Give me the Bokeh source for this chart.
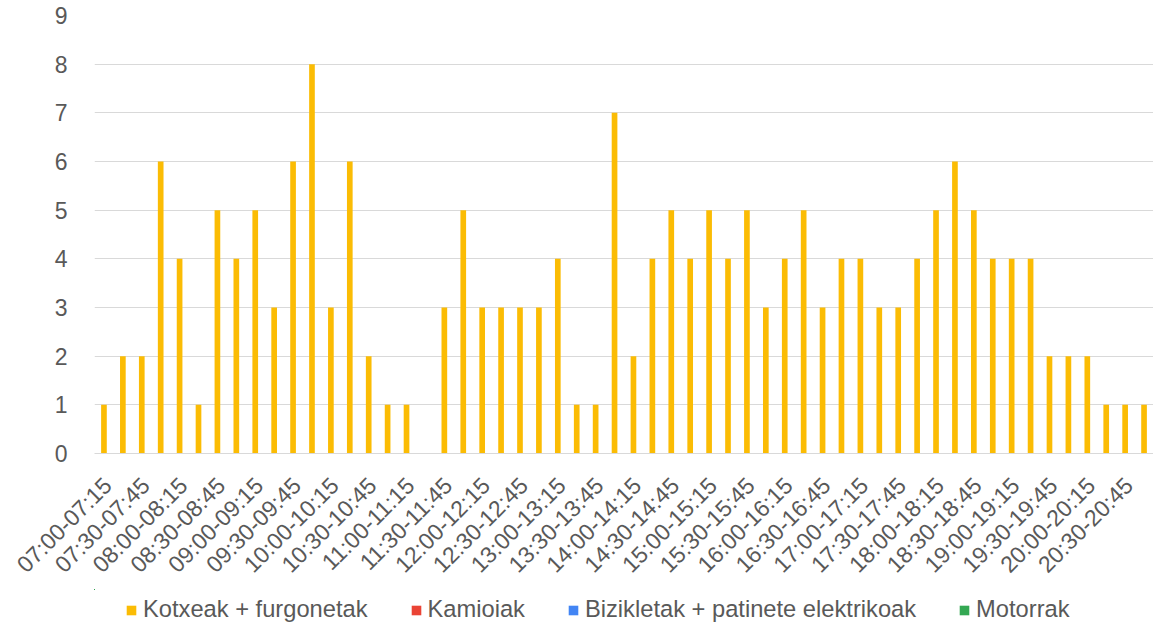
import math
from bokeh.plotting import figure
from bokeh.layouts import column
from bokeh.models import ColumnDataSource, Range1d, FixedTicker, Legend, LegendItem
from bokeh.embed import file_html
from bokeh.resources import INLINE

categories = [
    "07:00-07:15", "07:15-07:30", "07:30-07:45", "07:45-08:00",
    "08:00-08:15", "08:15-08:30", "08:30-08:45", "08:45-09:00",
    "09:00-09:15", "09:15-09:30", "09:30-09:45", "09:45-10:00",
    "10:00-10:15", "10:15-10:30", "10:30-10:45", "10:45-11:00",
    "11:00-11:15", "11:15-11:30", "11:30-11:45", "11:45-12:00",
    "12:00-12:15", "12:15-12:30", "12:30-12:45", "12:45-13:00",
    "13:00-13:15", "13:15-13:30", "13:30-13:45", "13:45-14:00",
    "14:00-14:15", "14:15-14:30", "14:30-14:45", "14:45-15:00",
    "15:00-15:15", "15:15-15:30", "15:30-15:45", "15:45-16:00",
    "16:00-16:15", "16:15-16:30", "16:30-16:45", "16:45-17:00",
    "17:00-17:15", "17:15-17:30", "17:30-17:45", "17:45-18:00",
    "18:00-18:15", "18:15-18:30", "18:30-18:45", "18:45-19:00",
    "19:00-19:15", "19:15-19:30", "19:30-19:45", "19:45-20:00",
    "20:00-20:15", "20:15-20:30", "20:30-20:45", "20:45-21:00",
]

kotxeak = [1, 2, 2, 6, 4, 1, 5, 4, 5, 3, 6, 8, 3, 6, 2, 1, 1, 0,
           3, 5, 3, 3, 3, 3, 4, 1, 1, 7, 2, 4, 5, 4, 5, 4, 5, 3,
           4, 5, 3, 4, 4, 3, 3, 4, 5, 6, 5, 4, 4, 4, 2, 2, 2, 1, 1, 1]
kamioiak = [0, 0, 0, 0, 0, 0, 0, 0, 0, 0, 0, 0, 0, 0, 0, 0, 0, 0,
            0, 0, 0, 0, 0, 0, 0, 0, 0, 0, 0, 0, 0, 0, 0, 0, 0, 0,
            0, 0, 0, 0, 0, 0, 0, 0, 0, 0, 0, 0, 0, 0, 0, 0, 0, 0, 0, 0]
bizikletak = [0, 0, 0, 0, 0, 0, 0, 0, 0, 0, 0, 0, 0, 0, 0, 0, 0, 0,
              0, 0, 0, 0, 0, 0, 0, 0, 0, 0, 0, 0, 0, 0, 0, 0, 0, 0,
              0, 0, 0, 0, 0, 0, 0, 0, 0, 0, 0, 0, 0, 0, 0, 0, 0, 0, 0, 0]
motorrak = [0, 0, 0, 0, 0, 0, 0, 0, 0, 0, 0, 0, 0, 0, 0, 0, 0, 0,
            0, 0, 0, 0, 0, 0, 0, 0, 0, 0, 0, 0, 0, 0, 0, 0, 0, 0,
            0, 0, 0, 0, 0, 0, 0, 0, 0, 0, 0, 0, 0, 0, 0, 0, 0, 0, 0, 0]

series_names = ["Kotxeak + furgonetak", "Kamioiak",
                "Bizikletak + patinete elektrikoak", "Motorrak"]
series_keys = ["kotxeak", "kamioiak", "bizikletak", "motorrak"]
series_colors = ["#FBBC04", "#EA4335", "#4285F4", "#34A853"]
y_ticks = [0, 1, 2, 3, 4, 5, 6, 7, 8, 9]

FONT = "Liberation Sans"
TXT = "#595959"
GRID = "#D9D9D9"

xs = list(range(len(categories)))
source = ColumnDataSource(dict(x=xs, kotxeak=kotxeak, kamioiak=kamioiak,
                               bizikletak=bizikletak, motorrak=motorrak))

p = figure(width=1153, height=589,
           x_range=Range1d(-0.5, len(categories) - 0.5),
           y_range=Range1d(y_ticks[0], y_ticks[-1]),
           output_backend="svg", toolbar_location=None,
           min_border_left=94, min_border_right=0,
           min_border_top=15, min_border_bottom=135)
p.outline_line_color = None
p.background_fill_color = "white"
p.border_fill_color = "white"

p.vbar_stack(series_keys, x="x", width=0.3, source=source,
             fill_color=series_colors, line_color=None)

# grid
p.xgrid.grid_line_color = None
p.ygrid.grid_line_color = GRID
p.ygrid.grid_line_width = 1

# y axis
p.yaxis.ticker = FixedTicker(ticks=y_ticks)
p.yaxis.axis_line_color = None
p.yaxis.major_tick_line_color = None
p.yaxis.minor_tick_line_color = None
p.yaxis.major_label_text_font = FONT
p.yaxis.major_label_text_font_size = "23px"
p.yaxis.major_label_text_color = TXT
p.yaxis.major_label_standoff = 21

# x axis: every second category label, rotated
tick_pos = [i + 0.2 for i in xs if i % 2 == 0]
p.xaxis.ticker = FixedTicker(ticks=tick_pos)
p.xaxis.major_label_overrides = {i + 0.2: categories[i] for i in xs if i % 2 == 0}
p.xaxis.axis_line_color = GRID
p.xaxis.major_tick_line_color = None
p.xaxis.minor_tick_line_color = None
p.xaxis.major_label_orientation = math.pi / 4
p.xaxis.major_label_standoff = 22
p.xaxis.major_label_text_font = FONT
p.xaxis.major_label_text_font_size = "23px"
p.xaxis.major_label_text_color = TXT

# legend strip below the chart (its own bars lie far outside its view)
lg = figure(width=1153, height=34,
            x_range=Range1d(1000, 1001), y_range=Range1d(-1000, -999),
            output_backend="svg", toolbar_location=None,
            x_axis_location=None, y_axis_location=None,
            min_border_left=0, min_border_right=0, min_border_top=0, min_border_bottom=0)
lg.outline_line_color = None
lg.background_fill_color = "white"
lg.border_fill_color = "white"
lg.xgrid.visible = False
lg.ygrid.visible = False
legend_renderers = lg.vbar_stack(series_keys, x="x", width=0.3, source=source,
                                 fill_color=series_colors, line_color=None)
items = [LegendItem(label=name, renderers=[r]) for name, r in zip(series_names, legend_renderers)]
leg = Legend(items=items, location=(31, 0), orientation="horizontal",
             padding=0, margin=0, spacing=42, label_standoff=6,
             glyph_width=12, glyph_height=12,
             border_line_color=None, background_fill_alpha=0,
             label_text_font=FONT, label_text_font_size="23.7px",
             label_text_color=TXT)
lg.add_layout(leg)

layout = column(p, lg, spacing=0)
open("out.html", "w").write(file_html(layout, INLINE))
